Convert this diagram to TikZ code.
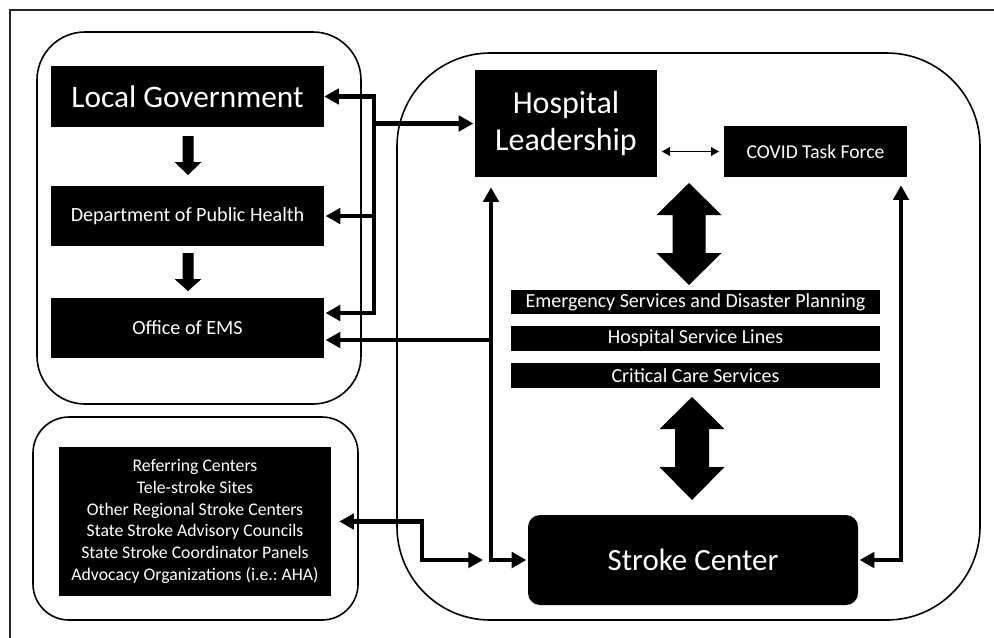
\documentclass[tikz,border=0pt]{standalone}
\usepackage{fontspec}
\setmainfont{Carlito}
\frenchspacing
\usetikzlibrary{arrows.meta}

\tikzset{
  blackbox/.style={fill=black, text=white, inner sep=0pt, align=center},
  boxsize/.style 2 args={minimum width=#1, minimum height=#2},
  panel/.style={draw, line width=1.2pt},
  link/.style={line width=3.4pt, shorten >=1pt, -{Triangle[length=11pt,width=11.5pt]}},
  linkboth/.style={line width=3.4pt, shorten >=1pt,
    {Triangle[length=11pt,width=11.5pt]}-{Triangle[length=11pt,width=11.5pt]}},
  thinlink/.style={line width=1pt, shorten <=3.5pt, shorten >=3.5pt,
    {Triangle[length=6pt,width=6.5pt]}-{Triangle[length=6pt,width=6.5pt]}}
}

\begin{document}
\begin{tikzpicture}[x=0.75pt, y=-0.75pt]
  \useasboundingbox (0,0) rectangle (994,637);

  % outer frame and panels
  \draw[line width=1.2pt, draw=black!85] (1010,10) -- (10,10) -- (10,650);
  \draw[panel, rounded corners=36pt] (37,32) rectangle (361,404);
  \draw[panel, rounded corners=27pt] (33,417) rectangle (358,620);
  \draw[panel, rounded corners=70pt] (397,53) rectangle (980,620);

  % government side
  \node[blackbox, boxsize={204.75pt}{45.75pt}, font=\fontsize{23.5}{28}\selectfont] (lg) at (187.5,96.5) {Local Government};
  \node[blackbox, boxsize={204.75pt}{45pt}, font=\fontsize{15.1}{18}\selectfont] (dph) at (187.5,216) {Department of Public Health};
  \node[blackbox, boxsize={204.75pt}{45pt}, font=\fontsize{15.1}{18}\selectfont] (ems) at (187.5,328) {Office of EMS};

  \fill (182.5,136) -- (193.5,136) -- (193.5,162) -- (201.5,162) -- (188,175) -- (174.5,162) -- (182.5,162) -- cycle;
  \fill (182.5,253) -- (193.5,253) -- (193.5,279) -- (201.5,279) -- (188,291) -- (174.5,279) -- (182.5,279) -- cycle;

  % regional partners
  \node[blackbox, boxsize={204pt}{111.75pt}, font=\fontsize{13.3}{16.3}\selectfont] (partners) at (195,521.5)
    {Referring Centers\\Tele-stroke Sites\\Other Regional Stroke Centers\\State Stroke Advisory Councils\\State Stroke Coordinator Panels\\Advocacy Organizations (i.e.: AHA)};

  % hospital side
  \node[blackbox, boxsize={136.5pt}{80.25pt}, font=\fontsize{24}{27.5}\selectfont] (hl) at (566,123.5) {Hospital\\Leadership};
  \node[blackbox, boxsize={137.25pt}{38.25pt}, font=\fontsize{14.7}{18}\selectfont] (covid) at (815.5,151.5) {COVID Task Force};
  \node[blackbox, boxsize={276.75pt}{18pt}, font=\fontsize{15}{18}\selectfont] (esdp) at (695.5,302) {Emergency Services and Disaster Planning};
  \node[blackbox, boxsize={276.75pt}{18.75pt}, font=\fontsize{15}{18}\selectfont] (hsl) at (695.5,338.5) {Hospital Service Lines};
  \node[blackbox, boxsize={276.75pt}{18.75pt}, font=\fontsize{15}{18}\selectfont] (ccs) at (695.5,375.5) {Critical Care Services};
  \node[blackbox, boxsize={247.5pt}{67.5pt}, rounded corners=9pt, font=\fontsize{23.2}{28}\selectfont] (sc) at (693,560) {Stroke Center};

  \fill (689,183) -- (721.5,215) -- (705.5,215) -- (705.5,253) -- (721.5,253) -- (689,285)
     -- (656.5,253) -- (672.5,253) -- (672.5,215) -- (656.5,215) -- cycle;
  \fill (692,397) -- (724.5,429) -- (709,429) -- (709,467) -- (724.5,467) -- (692,500)
     -- (659.5,467) -- (675,467) -- (675,429) -- (659.5,429) -- cycle;

  % connectors
  \coordinate (bus) at (374,0);
  \coordinate (lv) at (491,0);
  \coordinate (rv) at (901,0);
  \coordinate (elb) at (422,0);
  \coordinate (emsin) at ([yshift=11.25pt]ems.east);
  \coordinate (emsout) at ([yshift=-9pt]ems.east);

  \draw[linkboth] (lg.east) -| (bus |- emsin) -- (emsin);
  \draw[link] (bus |- dph.east) -- (dph.east);
  \draw[link] (bus |- hl.west) -- (hl.west);

  \draw[linkboth, shorten <=7.5pt] (lv |- hl.south) -- (lv |- sc.west) -- (sc.west);
  \draw[link] (lv |- emsout) -- (emsout);
  \draw[linkboth, shorten <=6pt] (rv |- covid.south) -- (rv |- sc.east) -- (sc.east);
  \draw[linkboth, shorten <=6pt, shorten >=6pt] (partners.east) -| (elb |- sc.west) -- (lv |- sc.west);

  \draw[thinlink] (hl.east |- covid.west) -- (covid.west);
\end{tikzpicture}
\end{document}
